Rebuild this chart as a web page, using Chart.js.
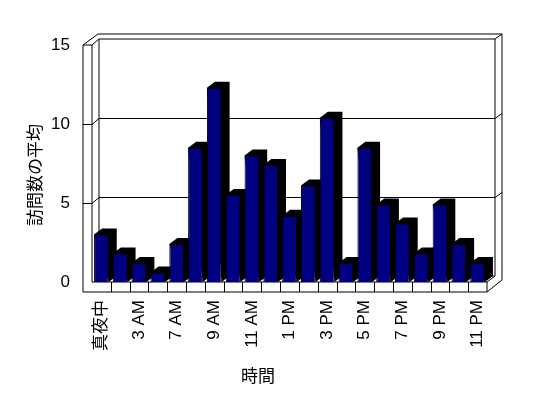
<!DOCTYPE html>
<html>
<head>
<meta charset="utf-8">
<script src="https://cdn.jsdelivr.net/npm/chart.js@4"></script>
<style>
  html, body { margin: 0; padding: 0; background: #fff; }
  canvas { display: block; }
</style>
</head>
<body>
<canvas id="visitsChart" width="548" height="398"></canvas>
<script>
// hour categories (only every other one gets a label in the original)
const hours = ["真夜中", "1 AM", "3 AM", "5 AM", "7 AM", "8 AM", "9 AM", "10 AM", "11 AM", "12 PM",
    "1 PM", "2 PM", "3 PM", "4 PM", "5 PM", "6 PM", "7 PM", "8 PM", "9 PM", "10 PM", "11 PM"];
const avgVisits = [3.0, 1.8, 1.2, 0.6, 2.4, 8.5, 12.3, 5.5, 8.0, 7.4, 4.2,
    6.1, 10.4, 1.2, 8.5, 4.9, 3.7, 1.8, 4.9, 2.4, 1.2];
const yTicks = [0, 5, 10, 15];
const xTitle = "時間";
const yTitle = "訪問数の平均";

const fontFamily = "'Liberation Sans', 'Noto Sans CJK JP', sans-serif";

// draws the excel-like 3d box, bar depth and axis titles
const box3d = {
    id: "box3d",
    beforeDatasetsDraw(chart) {
        const ctx = chart.ctx;
        const ys = chart.scales.y;
        const area = chart.chartArea;
        const L = area.left, R = area.right;
        const y0 = ys.getPixelForValue(0), yTop = ys.getPixelForValue(yTicks[yTicks.length - 1]);
        const wl = L - 9;       // front of left wall
        const dx = 7, dy = -6;  // back plane shift
        ctx.save();
        ctx.strokeStyle = "#000";
        ctx.lineWidth = 1;
        const line = (a, b, c, d) => { ctx.beginPath(); ctx.moveTo(a, b); ctx.lineTo(c, d); ctx.stroke(); };

        // walls outline
        line(wl, yTop, wl, y0 + 10);
        line(L, yTop, L, y0);
        line(L + dx, yTop + dy, L + dx, y0 + dy);
        line(wl, yTop, L, yTop);
        line(wl, yTop, L + dx - 1, yTop - 11);
        line(L, yTop, L + dx, yTop + dy);
        line(L + dx, yTop + dy, R + 8, yTop + dy);
        line(L + dx - 1, yTop - 11, R + 15, yTop - 11);
        line(R + 8, yTop + dy, R + 15, yTop - 11);
        line(R + 8, yTop + dy, R + 8, y0 + dy);
        line(R + 15, yTop - 11, R + 15, y0 - 2);

        // gridlines on the walls
        yTicks.slice(1, -1).forEach(v => {
            const gy = Math.round(ys.getPixelForValue(v)) + 0.5;
            line(wl, gy, L, gy);
            line(L, gy, L + dx, gy + dy);
            line(L + dx, gy + dy, R + 8, gy + dy);
            line(R + 8, gy + dy, R + 15, gy - 11);
        });

        // floor
        line(L + dx, y0 + dy, R + 8, y0 + dy);
        line(R, y0, R + 8, y0 + dy);
        line(R, y0 + 10, R + 15, y0 - 2);
        line(L, y0, R, y0);
        line(wl, y0 + 10, R, y0 + 10);
        line(R, y0, R, y0 + 10);
        const xs = chart.scales.x;
        const cell = (R - L) / hours.length;
        for (let i = 1; i < hours.length; i++) {
            const cx = Math.round(xs.getPixelForValue(i) - cell / 2) + 0.5;
            line(cx, y0, cx, y0 + 10);
        }

        // bar depth (top and side faces, black)
        const bd = 8, bdy = -6;
        ctx.fillStyle = "#000";
        chart.getDatasetMeta(0).data.forEach(bar => {
            const x0 = bar.x - bar.width / 2, x1 = bar.x + bar.width / 2;
            ctx.beginPath();
            ctx.moveTo(x0, bar.y);
            ctx.lineTo(x0 + bd, bar.y + bdy);
            ctx.lineTo(x1 + bd, bar.y + bdy);
            ctx.lineTo(x1 + bd, bar.base + bdy);
            ctx.lineTo(x1, bar.base);
            ctx.closePath();
            ctx.fill();
        });
        ctx.restore();
    },
    afterDraw(chart) {
        const ctx = chart.ctx;
        ctx.save();
        ctx.fillStyle = "#000";
        ctx.font = "17px 'Noto Sans CJK JP', sans-serif";
        ctx.textAlign = "center";
        ctx.textBaseline = "middle";
        ctx.fillText(xTitle, 258, 376);
        ctx.translate(35, 175);
        ctx.rotate(-Math.PI / 2);
        ctx.fillText(yTitle, 0, 0);
        ctx.restore();
    }
};

new Chart(document.getElementById("visitsChart"), {
    type: "bar",
    data: {
        labels: hours,
        datasets: [{
            data: avgVisits,
            backgroundColor: "#000080",
            borderColor: "#000",
            borderWidth: 1,
            barPercentage: 0.78,
            categoryPercentage: 1
        }]
    },
    options: {
        responsive: false,
        animation: false,
        devicePixelRatio: 1,
        layout: { padding: { top: 45, right: 61, left: 0, bottom: 0 } },
        plugins: { legend: { display: false }, tooltip: { enabled: false } },
        scales: {
            x: {
                grid: { display: false },
                border: { display: false },
                afterFit: s => { s.height = 116; },
                ticks: {
                    autoSkip: false,
                    maxRotation: 90,
                    minRotation: 90,
                    padding: 10,
                    color: "#000",
                    font: { family: fontFamily, size: 17 },
                    callback: (v, i) => i % 2 === 0 ? hours[i] : ""
                }
            },
            y: {
                min: 0,
                max: 15,
                grid: { display: false },
                border: { display: false },
                afterFit: s => { s.width = 92; },
                afterBuildTicks: s => { s.ticks = yTicks.map(v => ({ value: v })); },
                ticks: {
                    padding: 14,
                    color: "#000",
                    font: { family: fontFamily, size: 17 }
                }
            }
        }
    },
    plugins: [box3d]
});
</script>
</body>
</html>
